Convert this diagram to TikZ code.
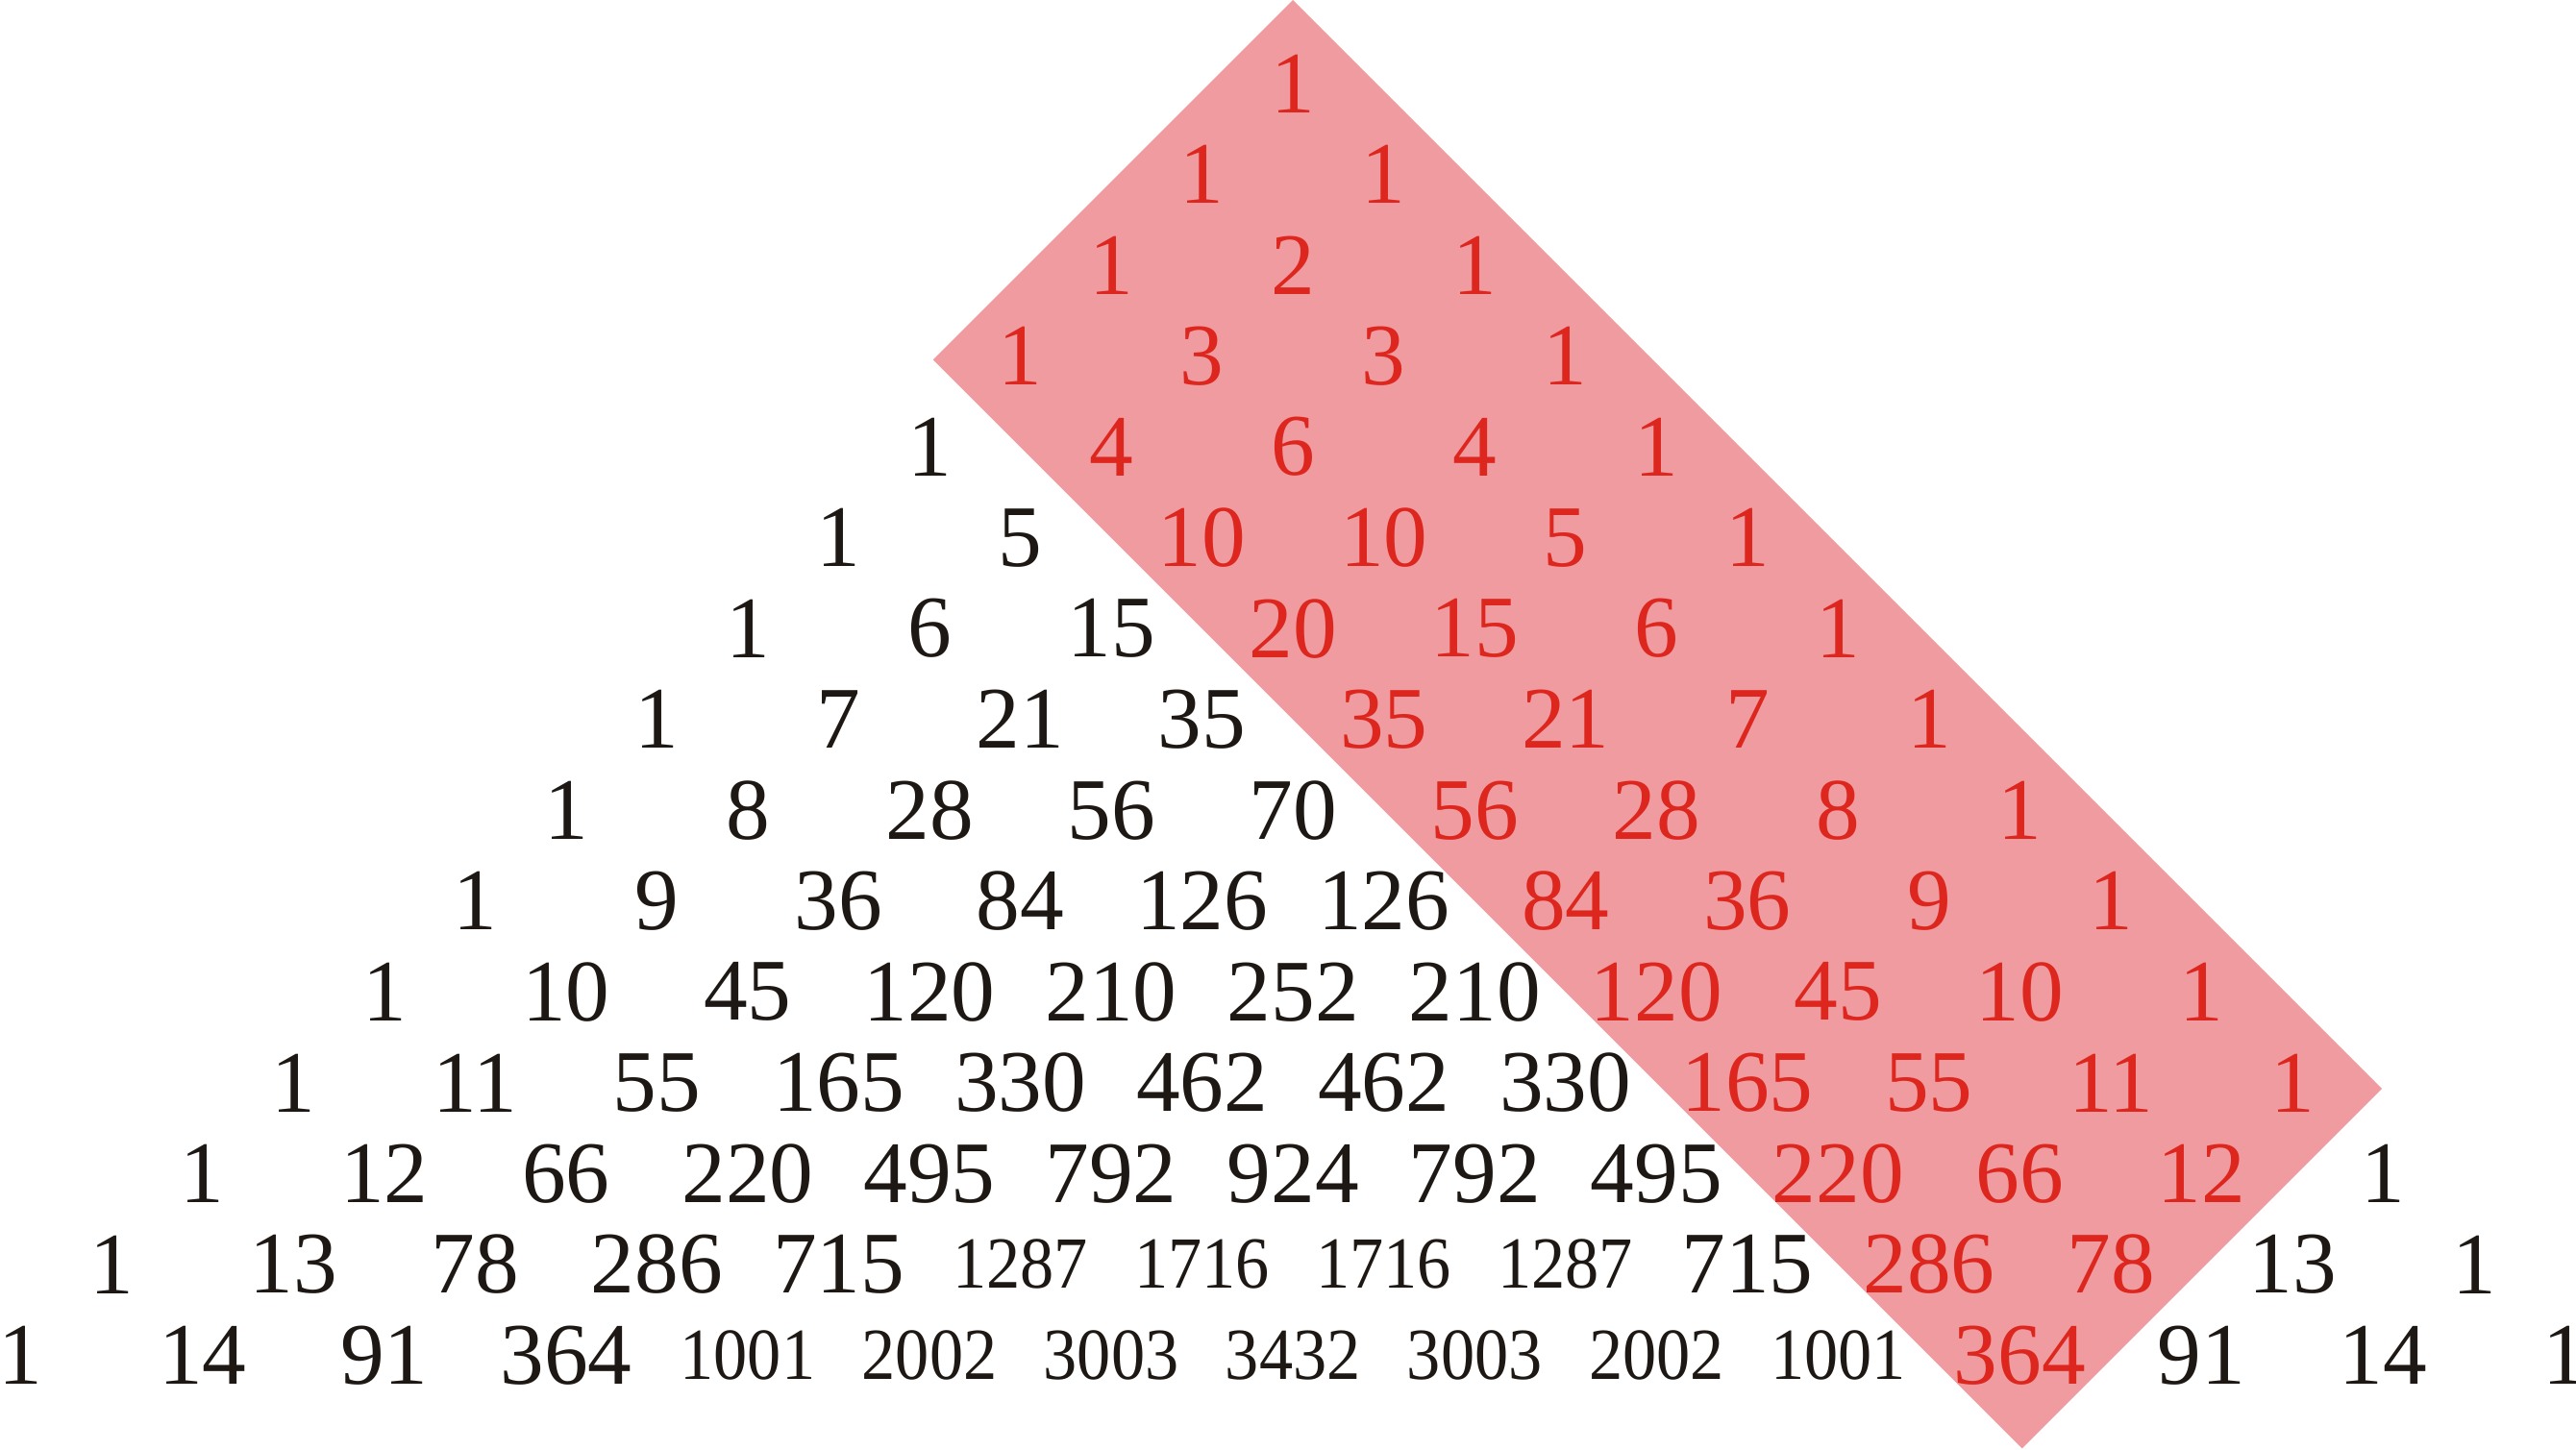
\documentclass[tikz,border=0pt]{standalone}
\usepackage{fontspec}
\usepackage{tikz}
\newfontfamily\pascalfont{Liberation Serif}
\newfontfamily\pascalnarrow[FakeStretch=0.92]{Liberation Serif}
\newcommand{\bignum}{\pascalfont\fontsize{27.5}{30}\selectfont}
\newcommand{\smallnum}{\pascalnarrow\fontsize{23}{26}\selectfont}
\definecolor{bandpink}{RGB}{240,155,160}
\definecolor{numred}{RGB}{220,38,30}
\definecolor{numblack}{RGB}{30,24,20}

\begin{document}
\begin{tikzpicture}[
  entry/.style={inner sep=0pt, anchor=center},
  band/.style={fill=bandpink, draw=none}
]
\useasboundingbox (-14.23,-15.04) rectangle (14.12,0.92);

% highlighted diagonal band
\fill[band] (0,0.92) -- (-3.96,-3.04) -- (8.025,-15.025) -- (11.985,-11.065) -- cycle;

\foreach \row [count=\n from 0] in {
  {1},{1,1},{1,2,1},{1,3,3,1},{1,4,6,4,1},{1,5,10,10,5,1},
  {1,6,15,20,15,6,1},{1,7,21,35,35,21,7,1},{1,8,28,56,70,56,28,8,1},
  {1,9,36,84,126,126,84,36,9,1},{1,10,45,120,210,252,210,120,45,10,1},
  {1,11,55,165,330,462,462,330,165,55,11,1},
  {1,12,66,220,495,792,924,792,495,220,66,12,1},
  {1,13,78,286,715,1287,1716,1716,1287,715,286,78,13,1},
  {1,14,91,364,1001,2002,3003,3432,3003,2002,1001,364,91,14,1}}
{
  \foreach \v [count=\k from 0] in \row {
    \pgfmathtruncatemacro\isred{and(\n-\k<4,\k<12)}
    \ifnum\isred=1 \colorlet{numcol}{numred}\else\colorlet{numcol}{numblack}\fi
    \ifnum\v>999 \let\numfont\smallnum\else\let\numfont\bignum\fi
    \node[entry, text=numcol, font=\numfont] (p\n-\k) at ({2*\k-\n},-\n) {\v};
  }
}
\end{tikzpicture}
\end{document}
